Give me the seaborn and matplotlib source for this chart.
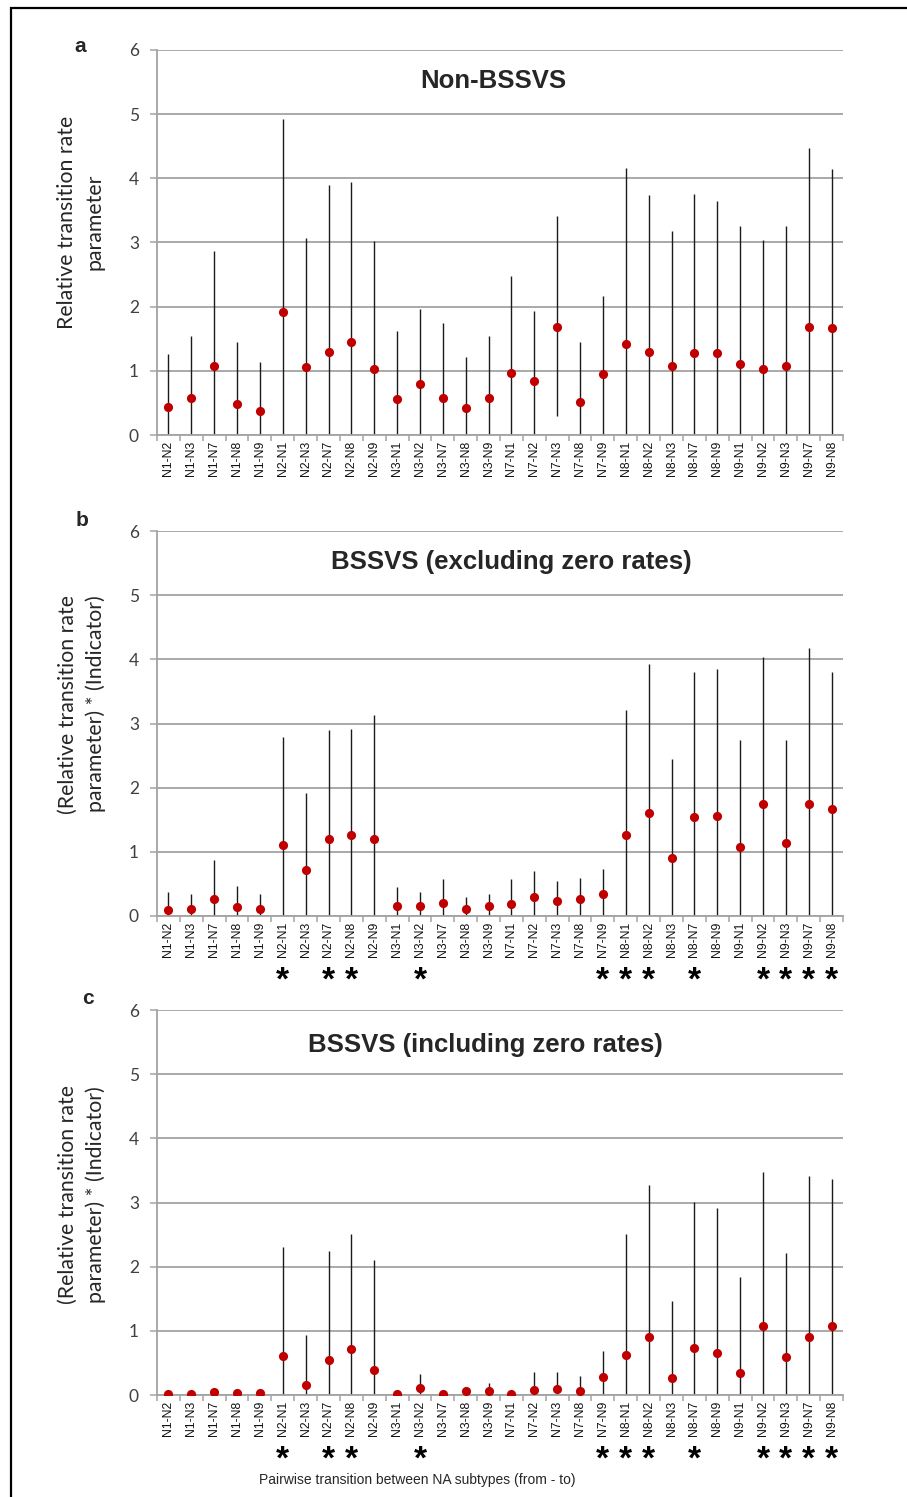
import numpy as np
import pandas as pd
import matplotlib
matplotlib.use("Agg")
import matplotlib.pyplot as plt
import matplotlib.transforms as mtransforms
from matplotlib.patches import Rectangle
import seaborn as sns

# ---------------- data ----------------
transitions = ["N1-N2", "N1-N3", "N1-N7", "N1-N8", "N1-N9",
               "N2-N1", "N2-N3", "N2-N7", "N2-N8", "N2-N9",
               "N3-N1", "N3-N2", "N3-N7", "N3-N8", "N3-N9",
               "N7-N1", "N7-N2", "N7-N3", "N7-N8", "N7-N9",
               "N8-N1", "N8-N2", "N8-N3", "N8-N7", "N8-N9",
               "N9-N1", "N9-N2", "N9-N3", "N9-N7", "N9-N8"]

# panel a: Non-BSSVS
a_mean = [0.44, 0.57, 1.08, 0.49, 0.37, 1.91, 1.06, 1.29, 1.45, 1.03,
          0.56, 0.80, 0.58, 0.42, 0.57, 0.97, 0.84, 1.68, 0.51, 0.95,
          1.42, 1.30, 1.07, 1.28, 1.28, 1.11, 1.03, 1.08, 1.68, 1.66]
a_upper = [1.26, 1.55, 2.86, 1.45, 1.13, 4.93, 3.07, 3.89, 3.94, 3.02,
           1.62, 1.97, 1.74, 1.22, 1.55, 2.48, 1.93, 3.42, 1.45, 2.17,
           4.16, 3.74, 3.18, 3.76, 3.65, 3.26, 3.04, 3.26, 4.47, 4.14]
a_lower = [0, 0, 0, 0, 0, 0, 0, 0, 0, 0,
           0, 0, 0, 0, 0, 0, 0, 0.30, 0, 0,
           0, 0, 0, 0, 0, 0, 0, 0, 0, 0]

# panel b: BSSVS (excluding zero rates)
b_mean = [0.10, 0.11, 0.27, 0.14, 0.11, 1.11, 0.71, 1.20, 1.26, 1.20,
          0.15, 0.16, 0.20, 0.11, 0.15, 0.18, 0.30, 0.24, 0.26, 0.34,
          1.26, 1.61, 0.90, 1.54, 1.56, 1.08, 1.75, 1.14, 1.75, 1.67]
b_upper = [0.38, 0.34, 0.88, 0.47, 0.34, 2.79, 1.92, 2.90, 2.92, 3.13,
           0.45, 0.38, 0.58, 0.29, 0.35, 0.58, 0.70, 0.54, 0.59, 0.74,
           3.21, 3.93, 2.45, 3.80, 3.85, 2.75, 4.04, 2.74, 4.17, 3.80]
b_lower = [0] * 30

# panel c: BSSVS (including zero rates)
c_mean = [0.01, 0.01, 0.04, 0.03, 0.03, 0.61, 0.16, 0.54, 0.71, 0.39,
          0.01, 0.11, 0.01, 0.06, 0.07, 0.01, 0.08, 0.10, 0.06, 0.28,
          0.62, 0.90, 0.26, 0.74, 0.65, 0.35, 1.07, 0.59, 0.90, 1.07]
c_upper = [0.01, 0.01, 0.04, 0.03, 0.03, 2.30, 0.94, 2.24, 2.51, 2.11,
           0.01, 0.32, 0.01, 0.06, 0.18, 0.01, 0.36, 0.36, 0.30, 0.69,
           2.51, 3.28, 1.47, 3.01, 2.92, 1.84, 3.47, 2.21, 3.41, 3.36]
c_lower = [0] * 30

significant = ["N2-N1", "N2-N7", "N2-N8", "N3-N2", "N7-N9", "N8-N1",
               "N8-N2", "N8-N7", "N9-N2", "N9-N3", "N9-N7", "N9-N8"]

panel_letters = ["a", "b", "c"]
panel_titles = ["Non-BSSVS", "BSSVS (excluding zero rates)",
                "BSSVS (including zero rates)"]
panel_ylabels = ["Relative transition rate\nparameter",
                 "(Relative transition rate\nparameter) * (Indicator)",
                 "(Relative transition rate\nparameter) * (Indicator)"]
y_ticks = [0, 1, 2, 3, 4, 5, 6]
x_label = "Pairwise transition between NA subtypes (from - to)"

# ---------------- style ----------------
sns.set_theme(style="white")
plt.rcParams["font.family"] = ["Liberation Sans", "DejaVu Sans"]

W, H = 907, 1497
fig = plt.figure(figsize=(W / 100, H / 100), dpi=100)

GRID = "#A3A3A3"
RED = "#C00000"

def fx(px):
    return px / W

def fy(py):
    return 1 - py / H

# axes pixel extents: (top_px for y=6, bottom_px for y=0)
panels_px = [(50, 435), (531, 916), (1010, 1395)]
left_px, right_px = 157, 843

means = [a_mean, b_mean, c_mean]
uppers = [a_upper, b_upper, c_upper]
lowers = [a_lower, b_lower, c_lower]

letter_pos = [(80, 47), (82, 520), (88, 998)]
title_pos = [(493, 81), (511, 562), (485, 1045)]
ylabel_pos = [(81, 222), (82, 704), (82, 1195)]
star_y = [None, 981, 1460]

n = len(transitions)
for i in range(3):
    top, bot = panels_px[i]
    ax = fig.add_axes([fx(left_px), fy(bot), fx(right_px - left_px), (bot - top) / H])
    df = pd.DataFrame({"transition": transitions, "value": means[i]})
    ax.vlines(np.arange(n), lowers[i], uppers[i], color="#1a1a1a", lw=1.0, zorder=2)
    sns.stripplot(data=df, x="transition", y="value", jitter=False, color=RED,
                  size=6.6, linewidth=0, ax=ax, zorder=3)
    ax.set_xlim(-0.5, n - 0.5)
    ax.set_ylim(0, 6)
    ax.set_yticks(y_ticks)
    ax.yaxis.grid(True, color=GRID, lw=1.3)
    ax.xaxis.grid(False)
    ax.set_axisbelow(True)
    for s in ["top", "right"]:
        ax.spines[s].set_visible(False)
    for s in ["left", "bottom"]:
        ax.spines[s].set_color(GRID)
        ax.spines[s].set_linewidth(1.3)
    ax.set_xlabel("")
    ax.set_ylabel("")
    ax.set_xticks(np.arange(n))
    ax.set_xticklabels(transitions, rotation=90, fontsize=8.8, color="#111111")
    ax.set_xticks(np.arange(-0.5, n, 1.0), minor=True)
    ax.tick_params(axis="x", which="major", length=0, pad=4)
    ax.tick_params(axis="x", which="minor", length=4, width=1.1, color=GRID,
                   direction="out", bottom=True)
    ax.tick_params(axis="y", which="major", length=5, width=1.1, color=GRID,
                   labelsize=12.5, pad=8, labelcolor="#404040", left=True)
    for lab in ax.get_yticklabels():
        lab.set_family(["Lato", "DejaVu Sans"])

    # panel letter, title, y label
    fig.text(fx(letter_pos[i][0]), fy(letter_pos[i][1]), panel_letters[i],
             ha="center", va="center", fontsize=15, fontweight="bold",
             family=["Liberation Sans", "DejaVu Sans"])
    fig.text(fx(title_pos[i][0]), fy(title_pos[i][1]), panel_titles[i],
             ha="center", va="center", fontsize=18.5, fontweight="bold",
             family=["Liberation Sans", "DejaVu Sans"])
    fig.text(fx(ylabel_pos[i][0]), fy(ylabel_pos[i][1]), panel_ylabels[i],
             ha="center", va="center", rotation=90, fontsize=15.3,
             multialignment="center", linespacing=1.5,
             family=["Lato", "DejaVu Sans"])

    if star_y[i] is not None:
        trans = mtransforms.blended_transform_factory(ax.transData, fig.transFigure)
        for lab in significant:
            idx = transitions.index(lab)
            ax.text(idx, fy(star_y[i]), "*", transform=trans, ha="center",
                    va="center", fontsize=24, fontweight="bold", color="black",
                    family=["Liberation Sans", "DejaVu Sans"], clip_on=False)

fig.text(fx(417), fy(1480), x_label, ha="center", va="center", fontsize=10,
         family=["Liberation Sans", "DejaVu Sans"])

# outer frame (top and left edges visible)
fig.patches.append(Rectangle((fx(11), -0.05), 1.1, fy(8) + 0.05, fill=False,
                             edgecolor="black", lw=1.6, transform=fig.transFigure,
                             figure=fig))

fig.savefig("out.png", dpi=100)
